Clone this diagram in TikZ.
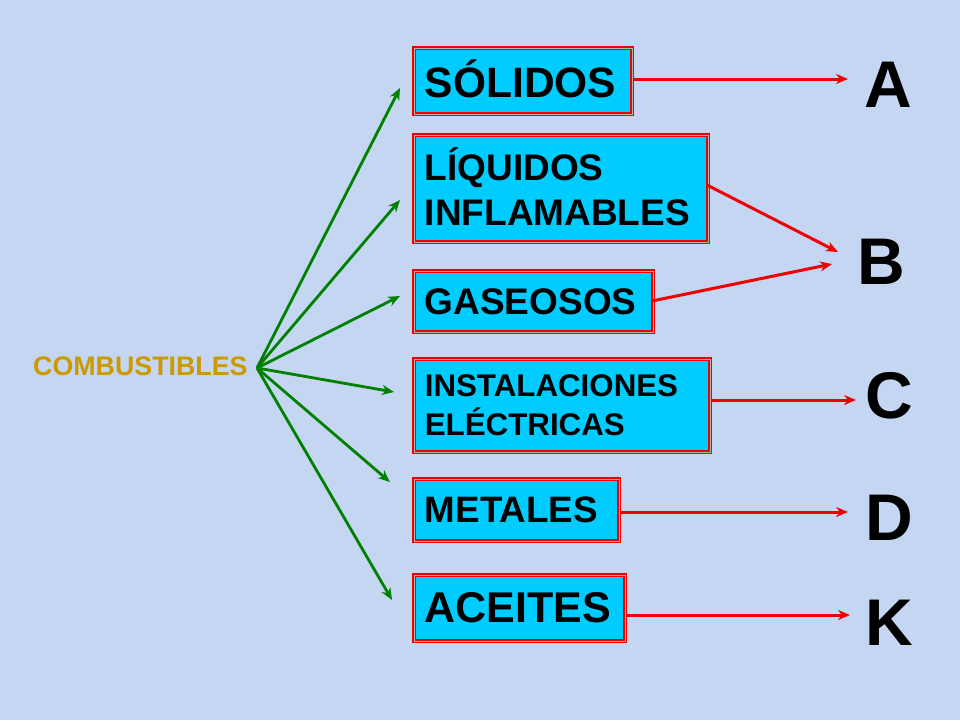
\documentclass[tikz,border=0pt]{standalone}
\usepackage{fontspec}
\setmainfont{Liberation Sans}
\usetikzlibrary{arrows.meta}
\definecolor{bgc}{RGB}{196,214,242}
\definecolor{boxc}{RGB}{0,204,255}
\definecolor{goldc}{RGB}{204,153,0}
\definecolor{grn}{RGB}{0,128,0}
\definecolor{redc}{RGB}{240,0,0}
\tikzset{
  catbox/.style={draw=redc, line width=1.6pt, fill=boxc, anchor=north west,
    inner xsep=11pt, inner ysep=0pt, align=left, font=\bfseries,
    double=gray!60, double distance=0.6pt},
  letter/.style={font=\bfseries\fontsize{66}{66}\selectfont, inner sep=0pt},
  garrow/.style={draw=grn, line width=2.8pt, -{Stealth[length=12pt,width=10pt]}},
  rarrow/.style={draw=redc, line width=3pt, -{Stealth[length=12pt,width=10pt]}}
}
\begin{document}
\begin{tikzpicture}[x=1pt,y=-1pt]
\fill[bgc] (0,0) rectangle (960,720);
\useasboundingbox (0,0) rectangle (960,720);

\node[anchor=west, inner sep=0pt, text=goldc, font=\bfseries\fontsize{26.8}{27}\selectfont] (comb) at (33,366) {COMBUSTIBLES};
\coordinate (src) at (257,368);

\node[catbox, minimum width=218pt, minimum height=66pt, text width=196pt,
  font=\bfseries\fontsize{42.5}{44}\selectfont] (sol) at (413,47) {\raisebox{5pt}{SÓLIDOS}};
\node[catbox, minimum width=294pt, minimum height=107pt, text width=272pt,
  font=\bfseries\fontsize{37}{45}\selectfont] (liq) at (413,134) {\raisebox{4pt}{LÍQUIDOS}\\\raisebox{4pt}{INFLAMABLES}};
\node[catbox, minimum width=239pt, minimum height=61pt, text width=217pt,
  font=\bfseries\fontsize{37}{39}\selectfont] (gas) at (413,270) {GASEOSOS};
\node[catbox, minimum width=296pt, minimum height=93pt, text width=274pt,
  font=\bfseries\fontsize{31.3}{39}\selectfont] (ins) at (413,358) {INSTALACIONES\\ELÉCTRICAS};
\node[catbox, minimum width=205pt, minimum height=62pt, text width=183pt,
  font=\bfseries\fontsize{36.8}{38}\selectfont] (met) at (413,478) {METALES};
\node[catbox, minimum width=211pt, minimum height=66pt, text width=189pt,
  font=\bfseries\fontsize{43}{45}\selectfont] (ace) at (413,574) {ACEITES};

\node[letter] (A) at (888,85) {A};
\node[letter] (B) at (881,262) {B};
\node[letter] (C) at (889,396) {C};
\node[letter] (D) at (889,518) {D};
\node[letter] (K) at (889,623) {K};

\coordinate (g1) at (400,88);
\coordinate (g2) at (400,200);
\coordinate (g3) at (400,296);
\coordinate (g4) at (394,392);
\coordinate (g5) at (390,482);
\coordinate (g6) at (392,600);
\foreach \t in {g1,g2,g3,g4,g5,g6} \draw[garrow] (src) -- (\t);

\coordinate (ra) at (848,79);
\coordinate (rb1) at (838,252);
\coordinate (rb2) at (832,264);
\coordinate (rc) at (856,400);
\coordinate (rd) at (848,512);
\coordinate (rk) at (850,615);
\draw[rarrow] (sol.east |- ra) -- (ra);
\draw[rarrow] (707,185) -- (rb1);
\draw[rarrow] (652,301) -- (rb2);
\draw[rarrow] (ins.east |- rc) -- (rc);
\draw[rarrow] (met.east |- rd) -- (rd);
\draw[rarrow] (ace.east |- rk) -- (rk);
\end{tikzpicture}
\end{document}
